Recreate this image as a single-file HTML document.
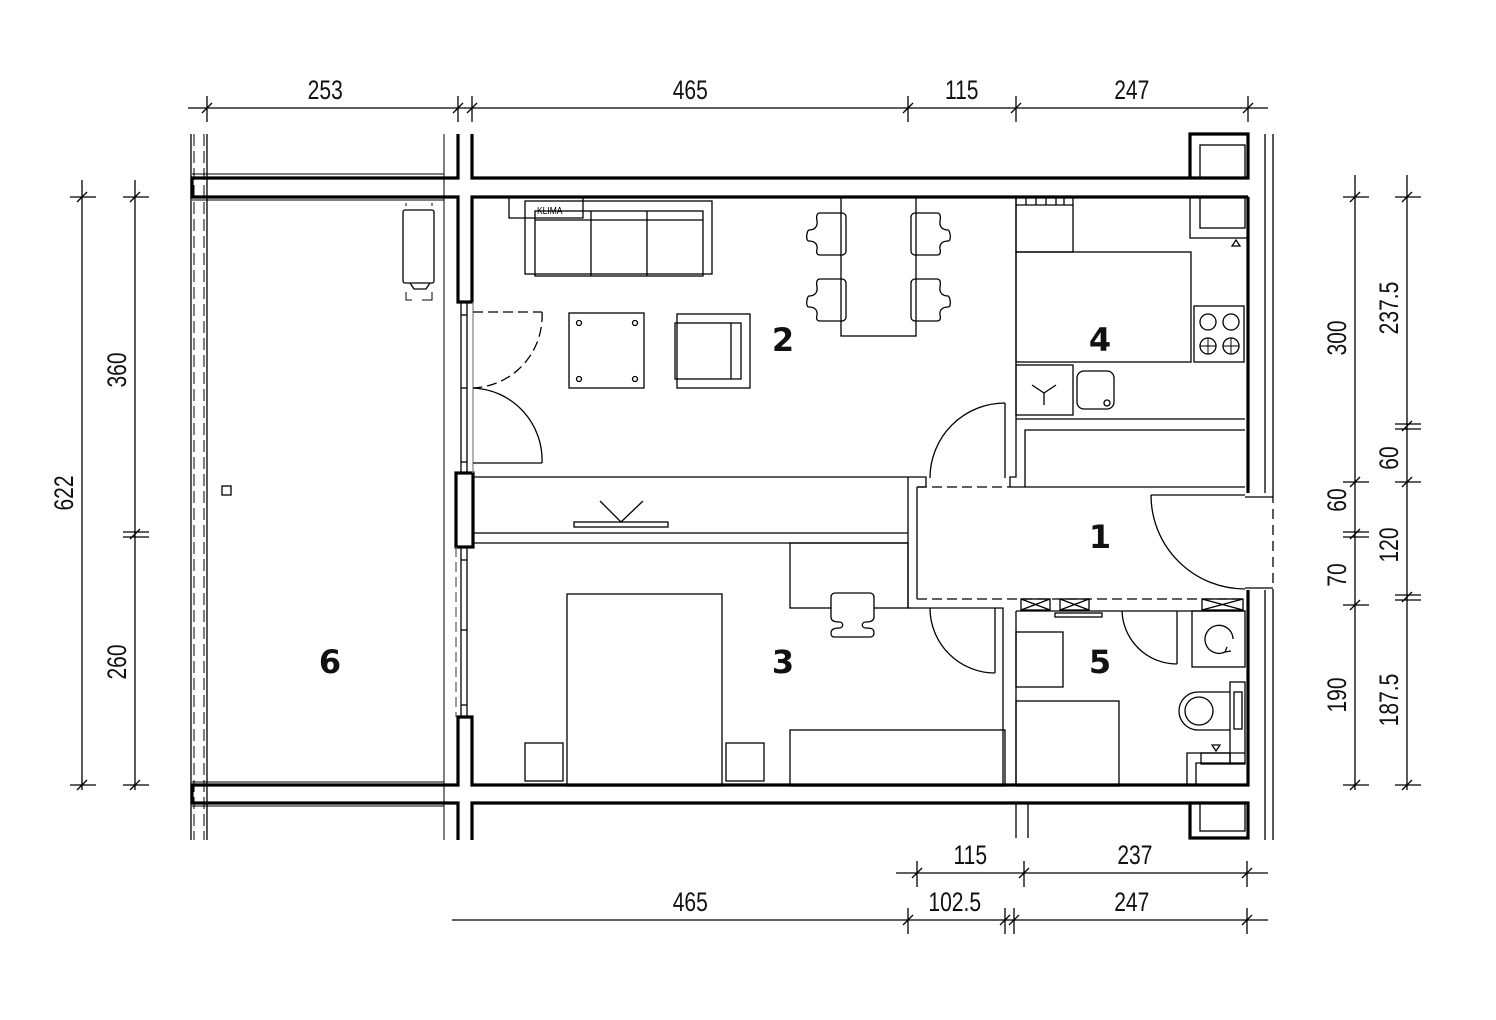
<!DOCTYPE html>
<html><head><meta charset="utf-8"><style>
html,body{margin:0;padding:0;background:#fff;}
svg{display:block;}
.d{font-family:"Liberation Sans",sans-serif;font-size:27px;fill:#111;}
.r{font-family:"DejaVu Sans","Liberation Sans",sans-serif;font-size:32px;font-weight:bold;fill:#111;}
</style></head><body>
<svg width="1496" height="1020" viewBox="0 0 1496 1020" xmlns="http://www.w3.org/2000/svg">
<g fill="none" stroke="#000" stroke-width="1.3">
<line x1="191" y1="134" x2="191" y2="840"/>
<line x1="194" y1="134" x2="194" y2="840" stroke-dasharray="12,5" stroke-width="1"/>
<line x1="204" y1="134" x2="204" y2="840" stroke-dasharray="12,5" stroke-width="1"/>
<line x1="207" y1="134" x2="207" y2="840"/>
<line x1="192" y1="174" x2="444" y2="174" stroke-width="1"/>
<line x1="192" y1="200" x2="444" y2="200" stroke-width="1"/>
<line x1="192" y1="782" x2="444" y2="782" stroke-width="1"/>
<line x1="192" y1="806" x2="444" y2="806" stroke-width="1"/>
<line x1="444" y1="134" x2="444" y2="840" stroke-width="1"/>
</g>
<g fill="none" stroke="#000" stroke-width="3.2">
<polyline points="458,134 458,178 192,178 192,197 458,197 458,302 472,302 472,197 1248,197"/>
<polyline points="472,134 472,178 1248,178 1248,134 1190,134 1190,178"/>
<line x1="1248" y1="197" x2="1248" y2="493"/>
<polyline points="458,840 458,803 192,803 192,785 458,785 458,717 472,717 472,785 1248,785 1248,590"/>
<polyline points="472,840 472,803 1248,803 1248,838 1190,838 1190,803"/>
<rect x="456" y="473" width="17" height="74"/>
</g>
<g fill="none" stroke="#000" stroke-width="1.3">
<line x1="1265" y1="134" x2="1265" y2="493"/><line x1="1273" y1="134" x2="1273" y2="493"/>
<line x1="1265" y1="590" x2="1265" y2="840"/><line x1="1273" y1="590" x2="1273" y2="840"/>
<line x1="1273" y1="493" x2="1273" y2="590" stroke-dasharray="10,6"/>
<line x1="1245" y1="497" x2="1273" y2="497"/><line x1="1245" y1="588" x2="1273" y2="588"/>
<rect x="1200" y="145" width="45" height="33"/>
<rect x="1190" y="197" width="58" height="41"/><rect x="1200" y="197" width="45" height="31"/>
<path d="M1232,246 l4,-6 l4,6 z"/>
<rect x="1200" y="803" width="45" height="28"/>
<line x1="1016" y1="803" x2="1016" y2="838"/><line x1="1028" y1="803" x2="1028" y2="838"/>
<line x1="461" y1="302" x2="461" y2="473"/><line x1="467" y1="302" x2="467" y2="473"/>
<line x1="461" y1="547" x2="461" y2="717"/><line x1="467" y1="547" x2="467" y2="717"/>
<line x1="461" y1="315" x2="467" y2="315"/><line x1="461" y1="388" x2="467" y2="388"/><line x1="461" y1="462" x2="467" y2="462"/>
<line x1="461" y1="560" x2="467" y2="560"/><line x1="461" y1="630" x2="467" y2="630"/><line x1="461" y1="705" x2="467" y2="705"/>
<line x1="473" y1="302" x2="473" y2="473" stroke="#888"/>
<line x1="456" y1="547" x2="456" y2="717" stroke-dasharray="10,5" stroke="#666"/>
<line x1="473" y1="312" x2="542" y2="312" stroke-dasharray="10,5"/>
<path d="M542,312 A72,72 0 0 1 473,388" stroke-dasharray="10,5"/>
<line x1="473" y1="463" x2="542" y2="463"/>
<path d="M473,388 A72,72 0 0 1 542,463"/>
<rect x="222" y="486" width="9" height="9"/>
<rect x="403" y="210" width="31" height="73" rx="2"/>
<path d="M410,283 l4,6 h12 l4,-6"/>
<path d="M406,292 v8 h6 M422,300 h10 v-8 M406,206 v-3 M432,206 v-3" stroke-width="1"/>
<path d="M509,198 v20 h74 v-20"/><rect x="525" y="201" width="187" height="73"/>
<rect x="535" y="211" width="168" height="65"/><line x1="535" y1="220" x2="703" y2="220"/>
<line x1="591" y1="211" x2="591" y2="276"/><line x1="647" y1="211" x2="647" y2="276"/>
<rect x="569" y="313" width="75" height="75"/>
<circle cx="579" cy="323" r="2.5"/><circle cx="635" cy="323" r="2.5"/><circle cx="579" cy="379" r="2.5"/><circle cx="635" cy="379" r="2.5"/>
<rect x="677" y="314" width="73" height="74"/><rect x="675" y="323" width="66" height="56"/><line x1="731" y1="323" x2="731" y2="379"/>
<rect x="841" y="197" width="75" height="139"/>
<g id="ch"><path d="M820,213 h22 a4,4 0 0 1 4,4 v34 a4,4 0 0 1 -4,4 h-22 c-3,0 -4,-2 -3,-6 c1,-6 -4,-8 -8,-8 c-4,0 -2,-11 0,-11 c4,0 9,-2 8,-9 c-1,-5 0,-8 3,-8 z"/></g>
<use href="#ch" y="66"/>
<use href="#ch" transform="matrix(-1 0 0 1 1757 0)"/>
<use href="#ch" transform="matrix(-1 0 0 1 1757 66)"/>
<line x1="473" y1="477" x2="908" y2="477"/><line x1="473" y1="533" x2="908" y2="533"/><line x1="473" y1="543" x2="908" y2="543"/>
<rect x="574" y="522" width="94" height="5"/><polyline points="600,501 621,522 643,501"/>
<polyline points="908,477 908,608 1003,608 1003,785"/>
<polyline points="917,487 917,599"/>
<line x1="1016" y1="611" x2="1016" y2="785"/>
<line x1="917" y1="487" x2="1010" y2="487" stroke-dasharray="10,5"/>
<line x1="917" y1="599" x2="1245" y2="599" stroke-dasharray="10,5"/>
<line x1="917" y1="487" x2="925" y2="487"/><line x1="1010" y1="487" x2="1245" y2="487"/>
<polyline points="908,477 926,477 926,487"/>
<path d="M930,478 A75,75 0 0 1 1005,403"/><line x1="1005" y1="403" x2="1005" y2="478"/>
<polyline points="1010,487 1010,477 1016,477 1016,197"/>
<polyline points="1025,487 1025,430 1245,430"/><line x1="1016" y1="419" x2="1245" y2="419"/>
<path d="M1151,495 A94,94 0 0 0 1245,589"/><line x1="1151" y1="495" x2="1245" y2="495"/>
<rect x="1016" y="197" width="57" height="55"/><line x1="1016" y1="205" x2="1073" y2="205"/>
<path d="M1026,197v8M1036,197v8M1046,197v8M1056,197v8M1064,197v8"/>
<rect x="1016" y="252" width="175" height="110"/>
<rect x="1194" y="306" width="50" height="56"/>
<circle cx="1208" cy="322" r="8"/><circle cx="1231" cy="322" r="8"/><circle cx="1208" cy="346" r="8"/><circle cx="1231" cy="346" r="8"/>
<path d="M1200,346h16M1208,338v16M1223,346h16M1231,338v16" stroke-width="1"/>
<rect x="1016" y="365" width="57" height="50"/><path d="M1032,385 l12,8 l12,-8 M1044,393 v12"/>
<rect x="1077" y="371" width="37" height="38" rx="7"/><circle cx="1107" cy="403" r="3"/>
<rect x="790" y="543" width="118" height="65"/>
<path d="M836,593 h34 a4,4 0 0 1 4,4 v20 c0,4 -4,5 -8,5 c-5,0 -5,6 0,6 c6,0 8,1 8,5 c0,3 -2,4 -4,4 h-36 c-2,0 -3,-2 -3,-4 c0,-4 4,-5 8,-5 c5,0 5,-6 0,-6 c-4,0 -8,-1 -8,-5 v-20 a4,4 0 0 1 4,-4 z" fill="#fff"/>
<rect x="567" y="594" width="155" height="192"/>
<rect x="525" y="743" width="38" height="38"/><rect x="726" y="743" width="38" height="38"/>
<rect x="790" y="730" width="215" height="56"/>
<path d="M930,608 A65,65 0 0 0 995,673"/><line x1="995" y1="608" x2="995" y2="673"/>
<line x1="1016" y1="611" x2="1245" y2="611"/>
<rect x="1021" y="599" width="29" height="11"/><path d="M1021,599 l29,11 M1050,599 l-29,11"/>
<rect x="1060" y="599" width="29" height="11"/><path d="M1060,599 l29,11 M1089,599 l-29,11"/>
<rect x="1202" y="599" width="41" height="11"/><path d="M1202,599 l41,11 M1243,599 l-41,11"/>
<rect x="1055" y="613" width="47" height="4"/>
<path d="M1122,611 A55,55 0 0 0 1177,664"/><line x1="1177" y1="611" x2="1177" y2="664"/>
<rect x="1016" y="632" width="47" height="55"/>
<rect x="1016" y="701" width="103" height="85"/>
<rect x="1192" y="611" width="53" height="56"/>
<path d="M1233,639 A14,14 0 1 0 1225,652 M1225,652 l6,-1 M1225,652 l2,-5"/>
<rect x="1230" y="682" width="15" height="82"/><rect x="1234" y="692" width="8" height="37"/>
<path d="M1230,692 h-32 a19,19 0 0 0 0,38 h32"/><circle cx="1199" cy="711" r="14"/>
<polyline points="1187,785 1187,753 1245,753"/><polyline points="1196,785 1196,763 1245,763"/>
<rect x="1201" y="753" width="29" height="11"/>
<path d="M1212,745 l4,6 l4,-6 z"/>
</g>
<g class="r" text-anchor="middle">
<text x="783" y="351">2</text><text x="1100" y="351">4</text><text x="1100" y="548">1</text>
<text x="783" y="673">3</text><text x="1100" y="673">5</text><text x="330" y="673">6</text>
</g>
<text x="537" y="214" font-family="Liberation Sans,sans-serif" font-size="10" transform="translate(537 214) scale(0.85 1) translate(-537 -214)">KLIMA</text>
<g stroke="#000" stroke-width="1.3" fill="none">
<line x1="188" y1="108" x2="1268" y2="108"/>
<line x1="896" y1="873" x2="1268" y2="873"/>
<line x1="452" y1="920" x2="1268" y2="920"/>
<line x1="82" y1="180" x2="82" y2="790"/>
<line x1="135" y1="180" x2="135" y2="790"/>
<line x1="1355" y1="175" x2="1355" y2="790"/>
<line x1="1407" y1="175" x2="1407" y2="790"/>
<path d="M207,96v26M202,113l10,-10 M458,96v26M453,113l10,-10 M472,96v26M467,113l10,-10 M908,96v26M903,113l10,-10 M1016,96v26M1011,113l10,-10 M1248,96v26M1243,113l10,-10"/>
<path d="M917,861v26M912,878l10,-10 M1024,861v26M1019,878l10,-10 M1247,861v26M1242,878l10,-10"/>
<path d="M908,908v26M903,925l10,-10 M1005,908v26M1000,925l10,-10 M1014,908v26M1009,925l10,-10 M1247,908v26M1242,925l10,-10"/>
<path d="M70,197h26M77,202l10,-10 M70,785h26M77,790l10,-10"/>
<path d="M123,197h26M130,202l10,-10 M123,532h26M123,537h26M130,539l10,-10 M123,785h26M130,790l10,-10"/>
<path d="M1343,197h26M1350,202l10,-10 M1343,482h26M1350,487l10,-10 M1343,532h26M1343,537h26M1350,539l10,-10 M1343,605h26M1350,610l10,-10 M1343,785h26M1350,790l10,-10"/>
<path d="M1395,197h26M1402,202l10,-10 M1395,424h26M1395,429h26M1402,431l10,-10 M1395,482h26M1402,487l10,-10 M1395,595h26M1395,600h26M1402,602l10,-10 M1395,785h26M1402,790l10,-10"/>
</g>
<g class="d" text-anchor="middle">
<g transform="scale(0.78 1)">
<text x="417" y="99">253</text><text x="885" y="99">465</text><text x="1233" y="99">115</text><text x="1451" y="99">247</text>
<text x="1244" y="864">115</text><text x="1455" y="864">237</text>
<text x="885" y="911">465</text><text x="1224" y="911">102.5</text><text x="1451" y="911">247</text>
</g>
<g transform="translate(73 493) rotate(-90) scale(0.78 1)"><text x="0" y="0">622</text></g>
<g transform="translate(126 370) rotate(-90) scale(0.78 1)"><text x="0" y="0">360</text></g>
<g transform="translate(126 662) rotate(-90) scale(0.78 1)"><text x="0" y="0">260</text></g>
<g transform="translate(1346 338) rotate(-90) scale(0.78 1)"><text x="0" y="0">300</text></g>
<g transform="translate(1346 500) rotate(-90) scale(0.78 1)"><text x="0" y="0">60</text></g>
<g transform="translate(1346 575) rotate(-90) scale(0.78 1)"><text x="0" y="0">70</text></g>
<g transform="translate(1346 695) rotate(-90) scale(0.78 1)"><text x="0" y="0">190</text></g>
<g transform="translate(1398 308) rotate(-90) scale(0.78 1)"><text x="0" y="0">237.5</text></g>
<g transform="translate(1398 458) rotate(-90) scale(0.78 1)"><text x="0" y="0">60</text></g>
<g transform="translate(1398 545) rotate(-90) scale(0.78 1)"><text x="0" y="0">120</text></g>
<g transform="translate(1398 700) rotate(-90) scale(0.78 1)"><text x="0" y="0">187.5</text></g>
</g>
</svg>
</body></html>
